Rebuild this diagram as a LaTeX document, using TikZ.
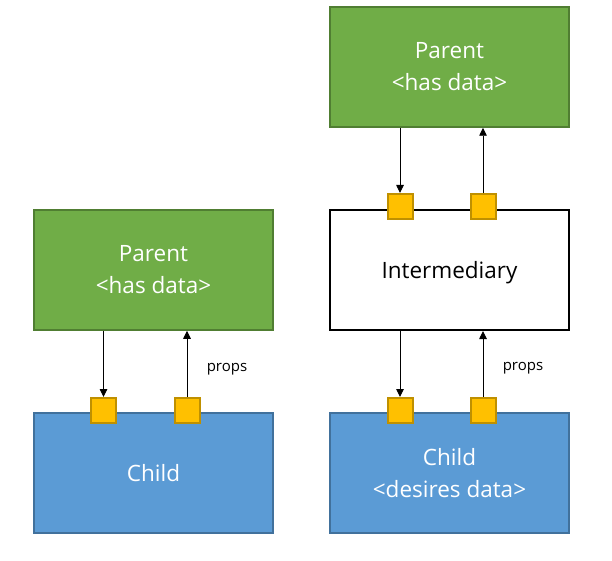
\documentclass[tikz,border=0pt]{standalone}
\usepackage{fontspec}
\setmainfont{Open Sans}
\usetikzlibrary{arrows.meta}
\definecolor{pgreen}{HTML}{70AD47}
\definecolor{pgreenb}{HTML}{507E32}
\definecolor{cblue}{HTML}{5B9BD5}
\definecolor{cblueb}{HTML}{41719C}
\definecolor{pyel}{HTML}{FFC000}
\definecolor{pyelb}{HTML}{BF9000}
\tikzset{
  box/.style={rectangle, minimum width=239pt, minimum height=120pt, inner sep=0pt,
    align=center, font=\fontsize{22.5}{32}\selectfont, line width=1.5pt},
  parentbox/.style={box, fill=pgreen, draw=pgreenb, text=white},
  childbox/.style={box, fill=cblue, draw=cblueb, text=white},
  interbox/.style={box, fill=white, draw=black, text=black, line width=2pt,
    text height=22pt, text depth=5.5pt},
  port/.style={rectangle, minimum size=25pt, inner sep=0pt, fill=pyel, draw=pyelb, line width=2pt},
  conn/.style={line width=0.9pt, -{Triangle[width=7.5pt,length=8pt]}},
  lbl/.style={font=\fontsize{15}{17}\selectfont, text=black, inner sep=0pt}
}
\begin{document}
\begin{tikzpicture}[x=1pt,y=-1pt]
\useasboundingbox (0,0) rectangle (612,561);
% left side
\node[parentbox] (pL) at (153.5,270) {Parent\\<has data>};
\node[childbox] (cL) at (153.5,473) {Child};
\node[port] (sL1) at (103.5,410.5) {};
\node[port] (sL2) at (187,410.5) {};
\coordinate (aL1) at (pL.south -| sL1.north);
\coordinate (aL2) at (pL.south -| sL2.north);
\draw[conn] (aL1) -- (sL1.north);
\draw[conn] (sL2.north) -- (aL2);
\node[lbl] (propsL) at (227,369) {props};
% right side
\node[parentbox] (pR) at (449.5,67) {Parent\\<has data>};
\node[interbox] (iR) at (449.5,270) {Intermediary};
\node[childbox] (cR) at (449.5,473) {Child\\<desires data>};
\node[port] (sR1) at (400,206.5) {};
\node[port] (sR2) at (483,206.5) {};
\node[port] (sR3) at (400,410.5) {};
\node[port] (sR4) at (483,410.5) {};
\coordinate (aR1) at (pR.south -| sR1.north);
\coordinate (aR2) at (pR.south -| sR2.north);
\coordinate (aR3) at (iR.south -| sR3.north);
\coordinate (aR4) at (iR.south -| sR4.north);
\draw[conn] (aR1) -- (sR1.north);
\draw[conn] (sR2.north) -- (aR2);
\draw[conn] (aR3) -- (sR3.north);
\draw[conn] (sR4.north) -- (aR4);
\node[lbl] (propsR) at (523,368) {props};
\end{tikzpicture}
\end{document}
